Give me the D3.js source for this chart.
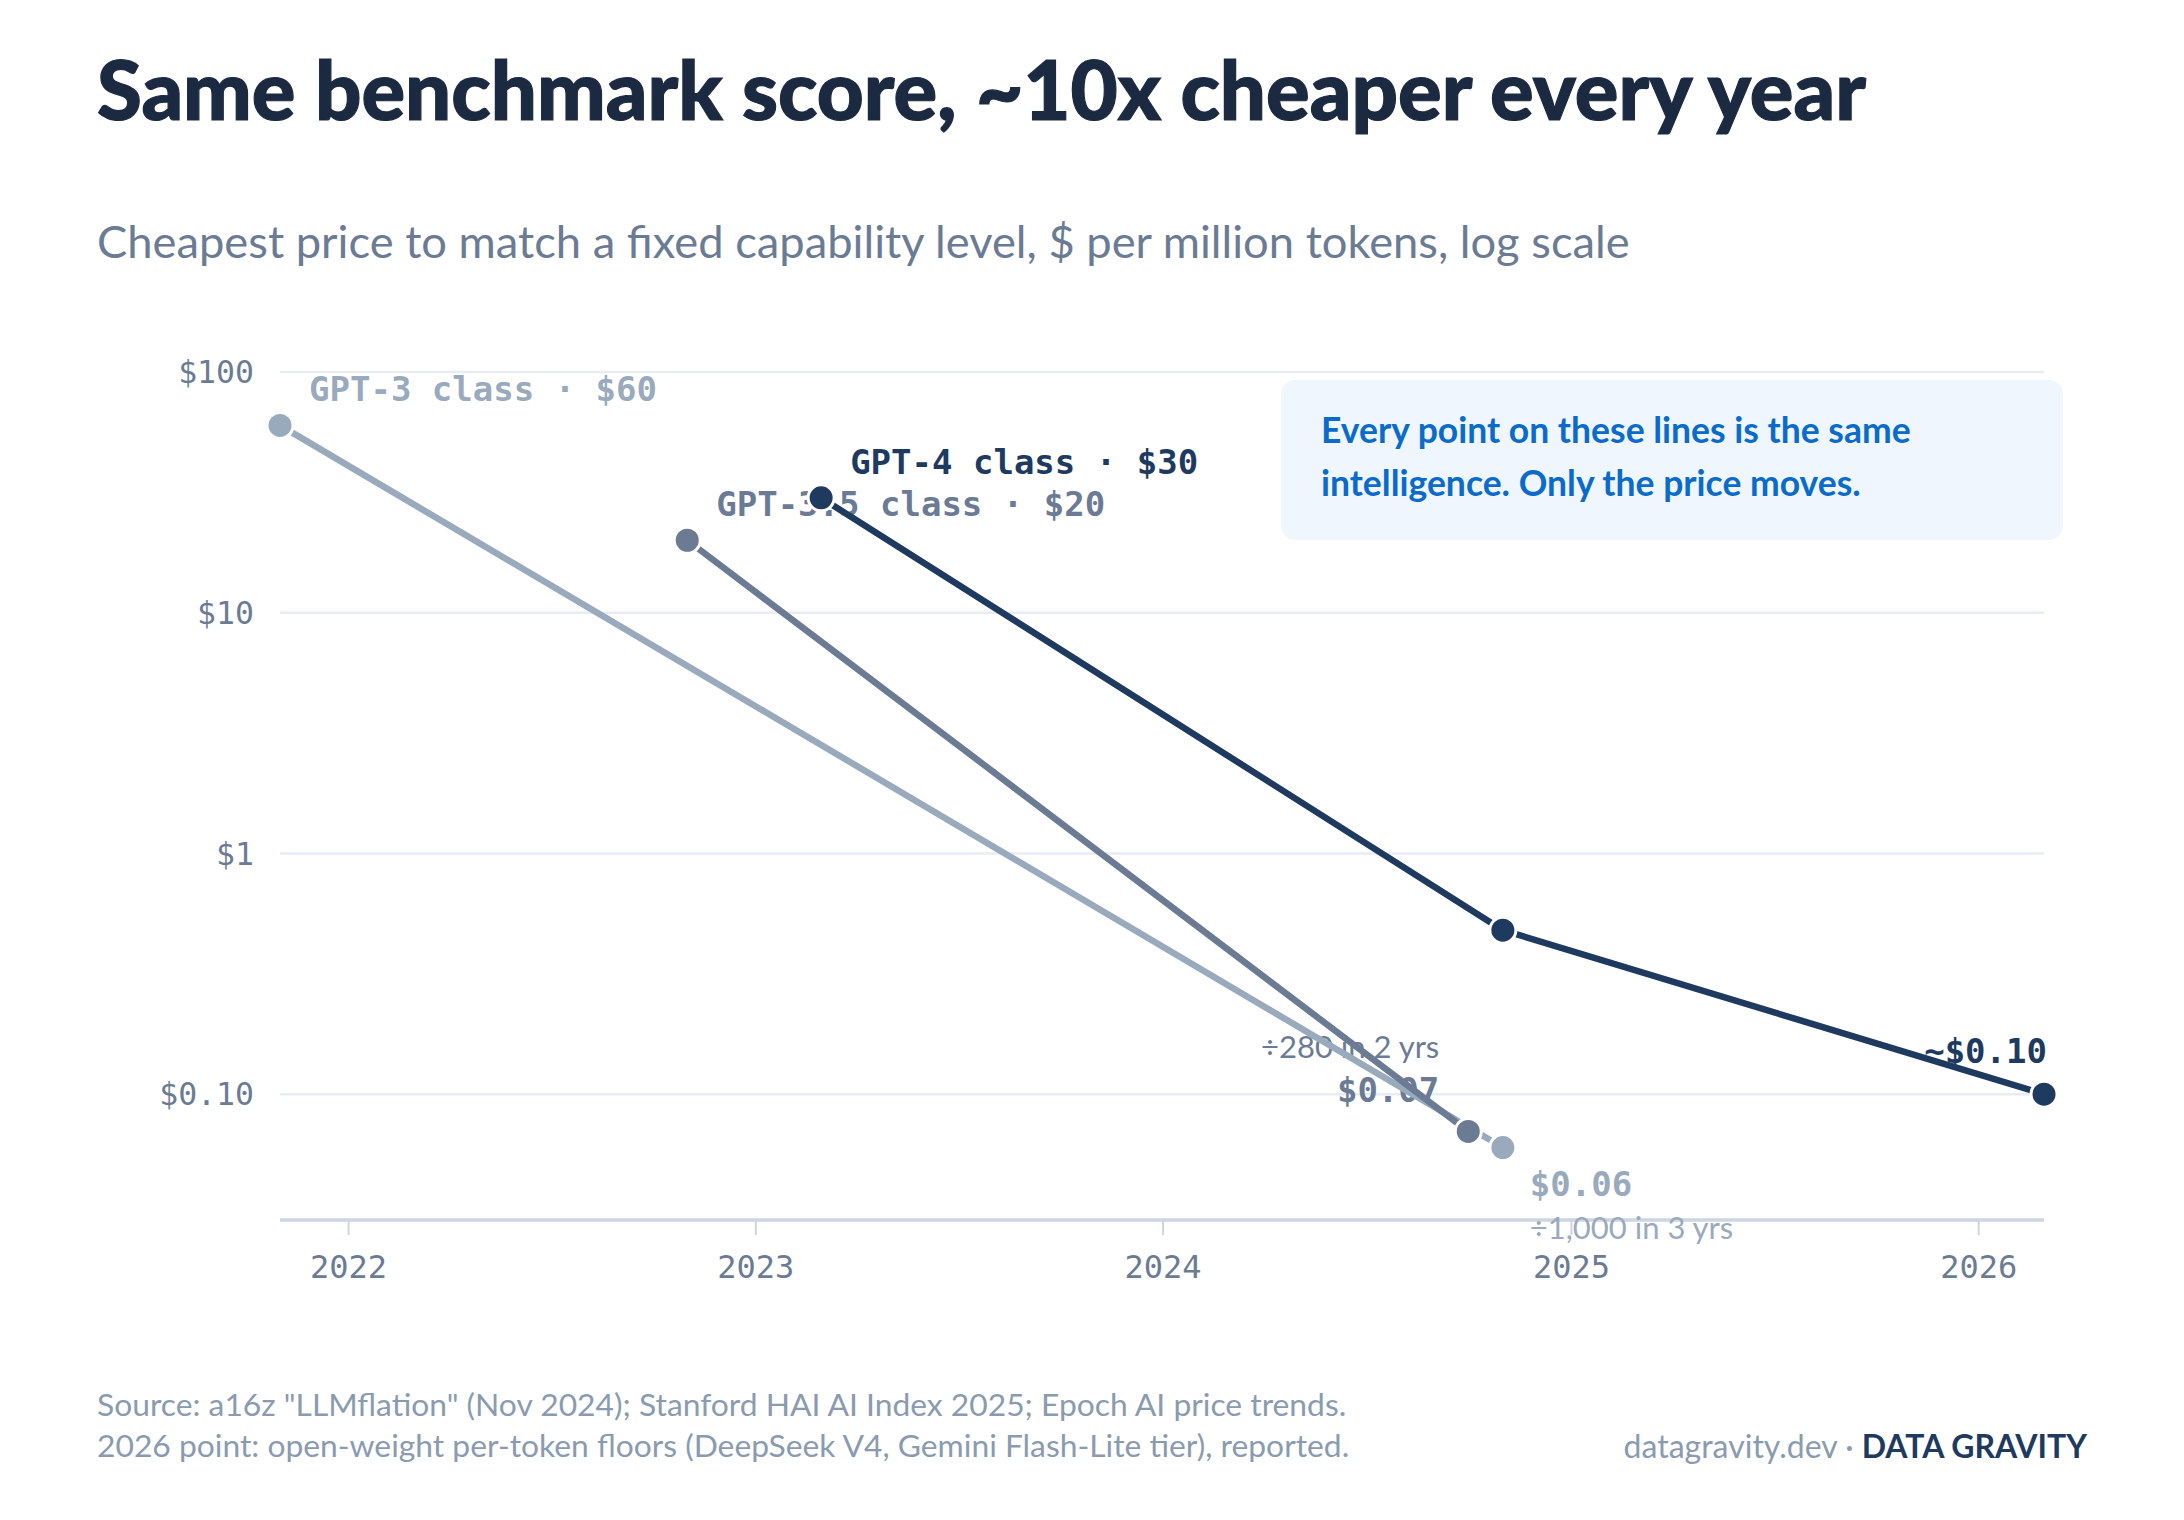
<!DOCTYPE html>
<html>
<head>
<meta charset="utf-8">
<script src="https://cdn.jsdelivr.net/npm/d3@7"></script>
<style>
  html, body { margin: 0; padding: 0; background: #fff; }
  svg { display: block; }
  .mono { font-family: "DejaVu Sans Mono", "Liberation Mono", monospace; }
  .sans { font-family: Lato, "Noto Sans", sans-serif; }
</style>
</head>
<body>
<svg id="chart" width="2184" height="1520"></svg>
<script>
// --- data ---
const seriesNames  = ["GPT-3 class", "GPT-3.5 class", "GPT-4 class"];
const seriesColors = ["#9aaabd", "#6b7b93", "#1e3a5f"];
const gpt3Dates    = ["2021-11-01", "2024-11-01"];
const gpt3Prices   = [60, 0.06];
const gpt35Dates   = ["2022-11-01", "2024-10-01"];
const gpt35Prices  = [20, 0.07];
const gpt4Dates    = ["2023-03-01", "2024-11-01", "2026-03-01"];
const gpt4Prices   = [30, 0.48, 0.10];
const yTicks       = [100, 10, 1, 0.1];
const yTickLabels  = ["$100", "$10", "$1", "$0.10"];
const xTickYears   = [2022, 2023, 2024, 2025, 2026];

const title    = "Same benchmark score, ~10x cheaper every year";
const subtitle = "Cheapest price to match a fixed capability level, $ per million tokens, log scale";
const boxLines = ["Every point on these lines is the same", "intelligence. Only the price moves."];
const footer1  = "Source: a16z \"LLMflation\" (Nov 2024); Stanford HAI AI Index 2025; Epoch AI price trends.";
const footer2  = "2026 point: open-weight per-token floors (DeepSeek V4, Gemini Flash-Lite tier), reported.";

const parse = d3.timeParse("%Y-%m-%d");
const series = [
  { name: seriesNames[0], color: seriesColors[0], pts: gpt3Dates.map((d, i) => ({ date: parse(d), v: gpt3Prices[i] })) },
  { name: seriesNames[1], color: seriesColors[1], pts: gpt35Dates.map((d, i) => ({ date: parse(d), v: gpt35Prices[i] })) },
  { name: seriesNames[2], color: seriesColors[2], pts: gpt4Dates.map((d, i) => ({ date: parse(d), v: gpt4Prices[i] })) }
];

const svg = d3.select("#chart");
const allPts = series.flatMap(s => s.pts);

const x = d3.scaleTime()
  .domain(d3.extent(allPts, d => d.date))
  .range([280, 2044]);
const y = d3.scaleLog()
  .domain([0.03, 100])
  .range([1220, 372]);

// titles
svg.append("text").attr("class", "sans")
  .attr("x", 97).attr("y", 120)
  .attr("font-size", 81.5).attr("font-weight", 900).attr("fill", "#1b2a41")
  .attr("stroke", "#1b2a41").attr("stroke-width", 1.2)
  .text(title);
svg.append("text").attr("class", "sans")
  .attr("x", 97).attr("y", 258)
  .attr("font-size", 45.3).attr("fill", "#6b7b93")
  .text(subtitle);

// grid
svg.append("g").selectAll("line").data(yTicks).join("line")
  .attr("x1", x.range()[0]).attr("x2", x.range()[1])
  .attr("y1", d => y(d)).attr("y2", d => y(d))
  .attr("stroke", "#e8edf3").attr("stroke-width", 2.5);

svg.append("g").selectAll("text").data(yTicks).join("text")
  .attr("class", "mono")
  .attr("x", 254).attr("y", d => y(d))
  .attr("dy", "0.36em")
  .attr("text-anchor", "end")
  .attr("font-size", 31.5).attr("fill", "#6b7b93")
  .text((d, i) => yTickLabels[i]);

// x axis
const xAxis = d3.axisBottom(x)
  .tickValues(xTickYears.map(yr => new Date(yr, 0, 1)))
  .tickFormat(d3.timeFormat("%Y"))
  .tickSize(15).tickPadding(20);
const gx = svg.append("g").attr("transform", `translate(0,${y.range()[0]})`).call(xAxis);
gx.select(".domain").attr("stroke", "#cdd5e0").attr("stroke-width", 3.5).attr("d", `M${x.range()[0]},0H${x.range()[1]}`);
gx.selectAll(".tick line").attr("stroke", "#cdd5e0").attr("stroke-width", 2);
gx.selectAll(".tick text").attr("class", "mono").attr("font-size", 32).attr("fill", "#6b7b93")
  .attr("font-family", "DejaVu Sans Mono, monospace");

// annotation box
svg.append("rect")
  .attr("x", 1281).attr("y", 380).attr("width", 782).attr("height", 160)
  .attr("rx", 14).attr("fill", "#f0f6fd");
svg.append("g").selectAll("text").data(boxLines).join("text")
  .attr("class", "sans")
  .attr("x", 1321).attr("y", (d, i) => 443 + i * 53)
  .attr("font-size", 35.5).attr("font-weight", 700).attr("fill", "#0b6bcb")
  .text(d => d);

// labels (under the lines)
const labels = svg.append("g");
series.forEach(s => {
  const p = s.pts[0];
  labels.append("text").attr("class", "mono")
    .attr("x", x(p.date) + 29).attr("y", y(p.v) - 24)
    .attr("font-size", 34).attr("font-weight", 700).attr("fill", s.color)
    .text(`${s.name} · $${p.v}`);
});

const fmt = d3.format("$.2f");
// GPT-3.5 end
{
  const s = series[1], p = s.pts[s.pts.length - 1];
  labels.append("text").attr("class", "sans")
    .attr("x", x(p.date) - 29).attr("y", y(p.v) - 73)
    .attr("text-anchor", "end").attr("font-size", 31).attr("fill", s.color)
    .text("÷280 in 2 yrs");
  labels.append("text").attr("class", "mono")
    .attr("x", x(p.date) - 29).attr("y", y(p.v) - 29)
    .attr("text-anchor", "end").attr("font-size", 34).attr("font-weight", 700).attr("fill", s.color)
    .text(fmt(p.v));
}
// GPT-3 end
{
  const s = series[0], p = s.pts[s.pts.length - 1];
  labels.append("text").attr("class", "mono")
    .attr("x", x(p.date) + 27).attr("y", y(p.v) + 48)
    .attr("font-size", 34).attr("font-weight", 700).attr("fill", s.color)
    .text(fmt(p.v));
  labels.append("text").attr("class", "sans")
    .attr("x", x(p.date) + 27).attr("y", y(p.v) + 91)
    .attr("font-size", 31).attr("fill", s.color)
    .text("÷1,000 in 3 yrs");
}
// GPT-4 end
{
  const s = series[2], p = s.pts[s.pts.length - 1];
  labels.append("text").attr("class", "mono")
    .attr("x", x(p.date) + 3).attr("y", y(p.v) - 31)
    .attr("text-anchor", "end").attr("font-size", 34).attr("font-weight", 700).attr("fill", s.color)
    .text("~" + fmt(p.v));
}

// lines
const line = d3.line().x(d => x(d.date)).y(d => y(d.v));
svg.append("g").selectAll("path").data(series).join("path")
  .attr("d", d => line(d.pts))
  .attr("fill", "none")
  .attr("stroke", d => d.color)
  .attr("stroke-width", 6.5)
  .attr("stroke-linejoin", "round");

// dots
series.forEach(s => {
  svg.append("g").selectAll("circle").data(s.pts).join("circle")
    .attr("cx", d => x(d.date)).attr("cy", d => y(d.v))
    .attr("r", 13)
    .attr("fill", s.color)
    .attr("stroke", "#fff").attr("stroke-width", 3);
});

// footer
svg.append("text").attr("class", "sans")
  .attr("x", 97).attr("y", 1416).attr("font-size", 31.8).attr("fill", "#8a9bb0")
  .text(footer1);
svg.append("text").attr("class", "sans")
  .attr("x", 97).attr("y", 1457).attr("font-size", 31.8).attr("fill", "#8a9bb0")
  .text(footer2);
const brand = svg.append("text").attr("class", "sans")
  .attr("x", 2087).attr("y", 1458).attr("text-anchor", "end").attr("font-size", 32);
brand.append("tspan").attr("fill", "#8a9bb0").text("datagravity.dev · ");
brand.append("tspan").attr("fill", "#1e3a5f").attr("font-weight", 700).text("DATA GRAVITY");
</script>
</body>
</html>
